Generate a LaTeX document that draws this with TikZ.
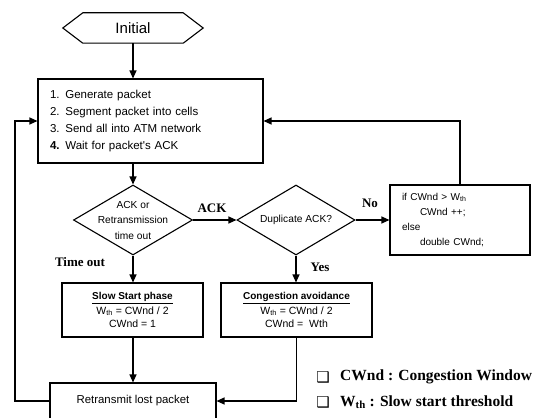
\documentclass[tikz,border=0pt]{standalone}
\usepackage{fontspec}
\setmainfont{Liberation Serif}
\newfontfamily\arialf{Liberation Sans}
\newfontfamily\symf{DejaVu Sans}
\usetikzlibrary{arrows.meta,shapes.geometric,calc}
\begin{document}
\begin{tikzpicture}[x=1pt,y=-1pt,
  box/.style={draw, line width=1.1pt, rectangle, inner sep=0pt},
  flow/.style={line width=1.2pt, -{Triangle[length=8pt,width=7pt]}},
  lab/.style={font=\fontsize{13}{15}\selectfont\bfseries, inner sep=0pt},
  legend/.style={font=\fontsize{15.5}{18}\selectfont\bfseries, inner sep=0pt, anchor=west},
  marker/.style={font=\symf\fontsize{15}{17}\selectfont, inner sep=0pt},
  decision/.style={draw, diamond, line width=1.1pt, minimum width=119pt, minimum height=70pt, inner sep=0pt},
  dtext/.style={font=\arialf\fontsize{10.2}{15.5}\selectfont, align=center, inner sep=0pt},
  phase/.style={box, minimum height=54pt, align=center, font=\arialf\fontsize{10.5}{13.5}\selectfont},
]
\useasboundingbox (0,0) rectangle (537,417);

% Initial hexagon
\node[minimum width=140pt, minimum height=30pt, inner sep=0pt, font=\arialf\fontsize{15}{18}\selectfont] (init) at (133,28) {Initial};
\draw[line width=1.1pt] (init.west) -- ([xshift=20pt]init.north west) -- ([xshift=-20pt]init.north east) -- (init.east) -- ([xshift=-20pt]init.south east) -- ([xshift=20pt]init.south west) -- cycle;

% main box
\node[box, minimum width=225pt, minimum height=84pt, text width=201pt, align=left, font=\arialf\fontsize{11.5}{17}\selectfont] (main) at (150.5,121)
  {1. Generate packet\\2. Segment packet into cells\\3. Send all into ATM network\\\textbf{4.} Wait for packet's ACK};

% decisions
\node[decision] (d1) at (133,220) {};
\node[dtext] (d1t) at (d1) {ACK or\\Retransmission\\time out};
\node[decision, minimum width=118pt] (d2) at (296,220) {};
\node[dtext] (d2t) at (d2) {Duplicate ACK?};

% if box
\node[box, minimum width=140pt, minimum height=70pt, text width=116pt, align=left, font=\arialf\fontsize{10}{15.3}\selectfont] (ifb) at (460,220)
  {if CWnd > W\textsubscript{th}\\\hspace*{18pt}CWnd ++;\\else\\\hspace*{18pt}double CWnd;};

% phase boxes
\node[phase, minimum width=141pt] (slow) at (132.5,310)
  {{\fontsize{10}{13}\selectfont\bfseries\underline{Slow Start phase}}\\[1pt]W\textsubscript{th} = CWnd / 2\\CWnd = 1};
\node[phase, minimum width=151pt] (cong) at (296.5,310)
  {{\fontsize{10}{13}\selectfont\bfseries\underline{Congestion avoidance}}\\[1pt]W\textsubscript{th} = CWnd / 2\\CWnd = \ Wth};

% retransmit
\node[box, minimum width=166pt, minimum height=36pt, font=\arialf\fontsize{11.4}{13}\selectfont] (retx) at (133,401) {Retransmit lost packet};

% connectors
\draw[flow] (init.south) -- (init.south |- main.north);
\draw[flow] (d1.north |- main.south) -- (d1.north);
\draw[flow] (d1.east) -- (d2.west);
\node[lab] (lack) at (212,208) {ACK};
\draw[flow] (d2.east) -- (ifb.west);
\node[lab] (lno) at (370,203) {No};
\draw[flow] (d2.south) -- (d2.south |- cong.north);
\node[lab] (lyes) at (320,267) {Yes};
\draw[flow] (d1.south) -- (d1.south |- slow.north);
\node[lab] (lto) at (80,262) {Time out};
\draw[flow] (retx.north |- slow.south) -- (retx.north);
\draw[flow] (cong.south) |- (retx.east);
\draw[flow] (ifb.north) |- (main.east);
\coordinate (lc) at (15,121);
\draw[flow] (retx.west) -- (retx.west -| lc) -- (lc) -- (main.west);

% legend
\node[marker] (m1) at (323,377) {❑};
\node[legend] (leg1) at (340,377) {CWnd : Congestion Window};
\node[marker] (m2) at (323,402) {❑};
\node[legend] (leg2) at (340,402) {W\textsubscript{th} : Slow start threshold};
\end{tikzpicture}
\end{document}
